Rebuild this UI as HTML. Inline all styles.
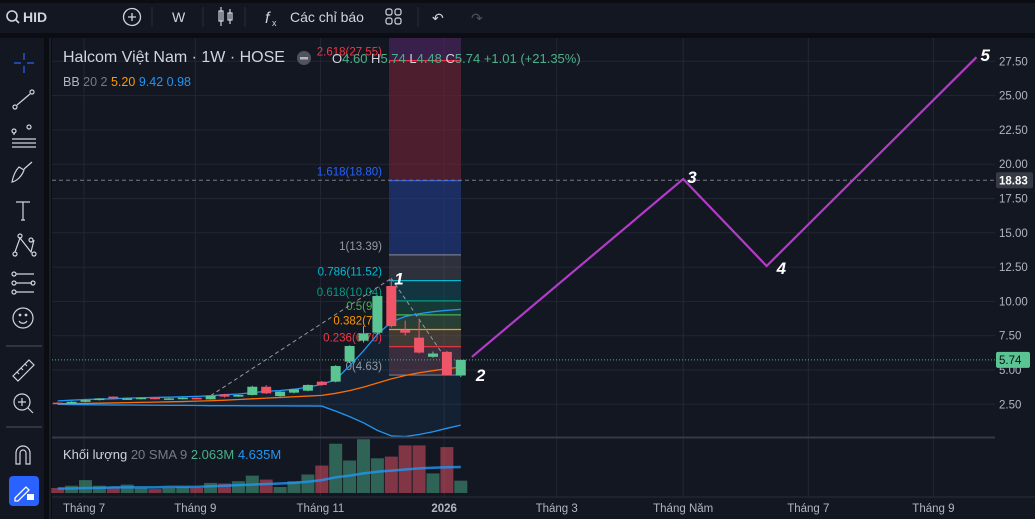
<!DOCTYPE html>
<html><head><meta charset="utf-8"><style>
html,body{margin:0;padding:0;background:#0b0d13;width:1035px;height:519px;overflow:hidden;font-family:"Liberation Sans",sans-serif}
svg{display:block}
</style></head><body>
<svg id="c" width="1035" height="519" xmlns="http://www.w3.org/2000/svg">
<rect x="0" y="0" width="1035" height="519" fill="#0b0d13"/>
<g font-size="14" fill="#d1d4dc">
<rect x="0" y="3" width="1035" height="30" fill="#131722"/>
<g><circle cx="12" cy="16" r="5" fill="none" stroke="#d1d4dc" stroke-width="1.6"/><line x1="15.5" y1="19.5" x2="19" y2="23" stroke="#d1d4dc" stroke-width="1.6"/><text x="23" y="22" font-weight="bold">HID</text></g>
<g><circle cx="132" cy="17" r="8.5" fill="none" stroke="#d1d4dc" stroke-width="1.3"/><path d="M128 17h8M132 13v8" stroke="#d1d4dc" stroke-width="1.3"/></g>
<line x1="152" y1="7" x2="152" y2="27" stroke="#2a2e39"/>
<text x="172" y="22">W</text>
<line x1="203" y1="7" x2="203" y2="27" stroke="#2a2e39"/>
<g stroke="#d1d4dc" fill="none" stroke-width="1.2"><rect x="219" y="11" width="4" height="10"/><line x1="221" y1="7" x2="221" y2="26"/><rect x="228" y="13" width="4" height="7"/><line x1="230" y1="9" x2="230" y2="24"/></g>
<line x1="245" y1="7" x2="245" y2="27" stroke="#2a2e39"/>
<g><text x="265" y="23" font-style="italic" font-size="16">f</text><text x="272" y="26" font-size="9">x</text><text x="290" y="22">Các chỉ báo</text></g>
<g fill="none" stroke="#d1d4dc" stroke-width="1.2"><rect x="386" y="9" width="6" height="6" rx="2"/><rect x="395" y="9" width="6" height="6" rx="2"/><rect x="386" y="18" width="6" height="6" rx="2"/><rect x="395" y="18" width="6" height="6" rx="2"/></g>
<line x1="418" y1="7" x2="418" y2="27" stroke="#2a2e39"/>
<text x="432" y="23">↶</text>
<text x="471" y="23" fill="#50535e">↷</text>
</g>
<g>
<rect x="0" y="38" width="44" height="481" fill="#131722"/>
<g stroke="#d1d4dc" fill="none" stroke-width="1.2">
<g stroke="#2962ff"><path d="M24 53v7M24 66v7M14 63h7M27 63h7"/></g>
<g><circle cx="15" cy="107" r="2"/><circle cx="32" cy="92" r="2"/><line x1="17" y1="105" x2="30" y2="94"/></g>
<g><circle cx="14" cy="131" r="2"/><circle cx="29" cy="127" r="2"/><path d="M12 139h24M12 143h24M12 147h24M14 135v-2"/></g>
<g><path d="M12 182c5-1 10-6 12-12l-5-3c-4 4-6 10-7 15zM24 169l8-7"/></g>
<g><path d="M16 202h14M23 202v18M21 220h4"/></g>
<g><circle cx="15" cy="254" r="2"/><circle cx="20" cy="236" r="2"/><circle cx="31" cy="240" r="2"/><circle cx="34" cy="254" r="2"/><path d="M15 252l5-14l11 14M20 238l11 14l3-12"/></g>
<g><circle cx="14" cy="274" r="2"/><circle cx="14" cy="283" r="2"/><circle cx="14" cy="292" r="2"/><circle cx="33" cy="283" r="2"/><path d="M16 274h18M16 283h16M16 292h18"/></g>
<g><circle cx="23" cy="318" r="10"/><path d="M19 321c2 3 6 3 8 0"/><circle cx="20" cy="315" r=".8"/><circle cx="26" cy="315" r=".8"/></g>
<line x1="6" y1="346" x2="42" y2="346" stroke="#434651"/>
<g><path d="M13 376l16-16l5 5l-16 16z M17 372l2 2M21 368l2 2M25 364l2 2"/></g>
<g><circle cx="22" cy="402" r="8"/><path d="M28 408l5 5M18 402h8M22 398v8"/></g>
<line x1="6" y1="427" x2="42" y2="427" stroke="#434651"/>
<g><path d="M16 464v-11a7 7 0 0 1 14 0v11h-4v-11a3 3 0 0 0-6 0v11z"/></g>
</g>
<g><rect x="9" y="476" width="30" height="30" rx="4" fill="#2962ff"/><path d="M15 498l11-11l3 3l-11 11h-3z" stroke="#fff" fill="none" stroke-width="1.3"/><rect x="27" y="494" width="7" height="6" fill="#fff"/></g>
</g>
<line x1="50" y1="38" x2="50" y2="519" stroke="#2a2e39"/>
<rect x="52" y="38" width="983" height="481" fill="#131722"/>
<g id="grid"></g>
<g id="bbfill"></g>
<g id="fib"></g>
<g id="lines"></g>
<g id="candles"></g>
<g id="vol"></g>
<g id="wave"></g>
<g id="axes"></g>
<g font-size="13">
<text x="63" y="62" font-size="16" fill="#d1d4dc">Halcom Việt Nam · 1W · HOSE</text>
<circle cx="304" cy="58" r="7" fill="#50535e"/><rect x="300" y="57" width="8" height="2.5" fill="#b2b5be"/>
<text x="332" y="63" fill="#d1d4dc">O<tspan fill="#4caf88">4.60</tspan> H<tspan fill="#4caf88">5.74</tspan> L<tspan fill="#4caf88">4.48</tspan> C<tspan fill="#4caf88">5.74 +1.01 (+21.35%)</tspan></text>
<text x="63" y="86" font-size="12.5" fill="#b2b5be">BB <tspan fill="#787b86">20 2</tspan>  <tspan fill="#ff9800">5.20</tspan>  <tspan fill="#2196f3">9.42</tspan>  <tspan fill="#2196f3">0.98</tspan></text>
<text x="63" y="459" font-size="13" fill="#d1d4dc">Khối lượng <tspan fill="#787b86">20 SMA 9</tspan>  <tspan fill="#4caf88">2.063M</tspan>  <tspan fill="#2196f3">4.635M</tspan></text>
</g>
</svg>
<script>
const opens  =[2.62,2.55,2.68,2.81,3.06,2.86,2.88,2.98,2.88,2.88,2.98,2.86,3.23,3.06,3.18,3.78,3.10,3.35,3.49,4.15,4.15,5.61,7.14,7.72,11.12,7.92,7.36,5.96,6.32,4.60];
const highs  =[2.65,2.72,2.85,2.95,3.08,2.97,3.00,3.00,2.96,3.00,3.00,3.16,3.26,3.20,3.85,3.90,3.45,3.62,3.95,4.20,5.35,6.80,8.20,10.45,11.68,8.60,8.60,6.35,6.40,5.74];
const lows   =[2.50,2.52,2.65,2.78,2.90,2.84,2.85,2.85,2.85,2.86,2.85,2.84,3.00,3.04,3.15,3.25,3.05,3.30,3.45,3.85,4.10,5.50,7.00,7.60,8.10,7.50,6.20,5.90,4.60,4.48];
const closes =[2.55,2.68,2.81,2.93,2.93,2.93,2.98,2.88,2.93,2.98,2.86,3.13,3.06,3.18,3.78,3.30,3.42,3.59,3.91,3.91,5.29,6.75,7.67,10.39,8.20,7.72,6.27,6.20,4.63,5.74];
const volumes=[0.9,1.3,2.3,1.3,1.07,1.5,0.9,0.7,0.9,1.07,0.9,1.8,1.7,2.1,3.1,2.4,1.07,2.1,3.3,4.9,8.8,5.8,9.6,6.2,6.5,8.5,8.5,3.5,8.2,2.2];
const volSma =[0.8,0.8,0.9,0.9,1.0,1.0,1.0,1.0,1.1,1.1,1.1,1.2,1.3,1.4,1.5,1.6,1.7,1.8,2.0,2.3,2.8,3.1,3.5,3.8,4.0,4.2,4.4,4.5,4.6,4.635];
const bbUpper=[2.75,2.8,2.85,2.88,2.9,2.95,2.98,3.0,3.02,3.05,3.08,3.12,3.2,3.25,3.35,3.45,3.5,3.6,3.75,3.95,4.3,5.3,6.4,7.6,8.5,8.9,9.1,9.25,9.35,9.42];
const bbMid  =[2.55,2.56,2.57,2.58,2.6,2.62,2.64,2.66,2.68,2.7,2.73,2.76,2.8,2.85,2.9,2.95,3.0,3.05,3.1,3.15,3.3,3.5,3.75,4.05,4.35,4.6,4.8,4.95,5.1,5.2];
const bbLower=[2.5,2.48,2.47,2.46,2.45,2.45,2.44,2.43,2.42,2.42,2.41,2.4,2.4,2.4,2.39,2.39,2.39,2.38,2.38,2.37,2.0,1.6,1.15,0.6,0.2,0.15,0.3,0.5,0.75,0.98];
const priceTicks=[27.5,25,22.5,20,17.5,15,12.5,10,7.5,5,2.5];
const priceTickLabels=["27.50","25.00","22.50","20.00","17.50","15.00","12.50","10.00","7.50","5.00","2.50"];
const timeTickIdx=[1.9,9.9,18.9,27.8,35.9,45,54,63];
const timeTickLabels=["Tháng 7","Tháng 9","Tháng 11","2026","Tháng 3","Tháng Năm","Tháng 7","Tháng 9"];
const fibRatios=[0,0.236,0.382,0.5,0.618,0.786,1,1.618,2.618];
const fibPrices=[4.63,6.70,7.95,9.02,10.04,11.52,13.39,18.80,27.55];
const fibLabels=["0(4.63)","0.236(6.70)","0.382(7.9","0.5(9.0","0.618(10.04)","0.786(11.52)","1(13.39)","1.618(18.80)","2.618(27.55)"];
const waveIdx=[29.8,45,51,66.1];
const wavePrice=[5.95,18.92,12.58,27.8];
const waveLabels=["2","3","4","5"];
const lastPrice=5.74, targetPrice=18.83;

const xOf=i=>57.7+i*13.9;
const yOf=p=>370-(p-5)*13.72;
const volBase=493, volScale=5.6;
const yVol=v=>volBase-v*volScale;
const NS="http://www.w3.org/2000/svg";
function mk(parent,tag,attrs){const e=document.createElementNS(NS,tag);for(const k in attrs)e.setAttribute(k,attrs[k]);document.getElementById(parent).appendChild(e);return e;}
const UP="#5bc493",DN="#ef5568";

priceTicks.forEach((p,i)=>{const l=mk('grid','line',{x1:52,x2:995,y1:yOf(p),y2:yOf(p),stroke:'#232733'});

});
timeTickIdx.forEach(t=>{const l=mk('grid','line',{x1:xOf(t),x2:xOf(t),y1:38,y2:497,stroke:'#232733'});

});

let poly=bbUpper.map((v,i)=>xOf(i)+','+yOf(v)).join(' ')+' '+bbLower.map((v,i)=>xOf(i)+','+Math.min(yOf(v),437)).reverse().join(' ');
const bf=mk('bbfill','polygon',{points:poly,fill:'rgba(33,150,243,0.08)'});



const fx0=389,fx1=461;
const fibCols=['#787b86','#f23645','#ff9800','#4caf50','#089981','#00bcd4','#787b86','#2962ff','#f23645'];
const bandCols=['rgba(130,70,85,0.35)','rgba(150,105,60,0.35)','rgba(80,120,60,0.35)','rgba(30,120,90,0.35)','rgba(20,100,115,0.4)','rgba(110,110,120,0.3)','rgba(35,60,140,0.6)','rgba(115,35,55,0.6)'];
for(let i=0;i<fibPrices.length-1;i++){const r=mk('fib','rect',{x:fx0,width:fx1-fx0,y:yOf(fibPrices[i+1]),height:yOf(fibPrices[i])-yOf(fibPrices[i+1]),fill:bandCols[i]});

}
const topR=mk('fib','rect',{x:fx0,width:fx1-fx0,y:38,height:Math.max(0,yOf(fibPrices[8])-38),fill:'rgba(90,40,110,0.55)'});


fibPrices.forEach((p,i)=>{const l=mk('fib','line',{x1:fx0,x2:fx1,y1:yOf(p),y2:yOf(p),stroke:fibCols[i],'stroke-width':1.2});


const t=mk('fib','text',{x:382,y:yOf(p)-5,'text-anchor':'end','font-size':11.5,fill:fibCols[i]==='#787b86'?'#9598a1':fibCols[i]});t.textContent=fibLabels[i];

});
const d1=mk('fib','line',{x1:xOf(11),y1:yOf(3.13),x2:xOf(24),y2:yOf(11.68),stroke:'#9598a1','stroke-dasharray':'4 3'});


const d2=mk('fib','line',{x1:xOf(24),y1:yOf(11.68),x2:xOf(28),y2:yOf(5.7),stroke:'#9598a1','stroke-dasharray':'4 3'});



[[bbUpper,'#2196f3','bb-upper'],[bbLower,'#2196f3','bb-lower'],[bbMid,'#ff6d00','bb-basis']].forEach(([arr,c,n])=>{
const l=mk('lines','polyline',{points:arr.map((v,i)=>xOf(i)+','+Math.min(yOf(v),437)).join(' '),fill:'none',stroke:c,'stroke-width':1.3});

});

const pl=mk('lines','line',{x1:52,x2:995,y1:yOf(lastPrice),y2:yOf(lastPrice),stroke:'#4caf88','stroke-dasharray':'1 2'});


const tl=mk('lines','line',{x1:52,x2:995,y1:yOf(targetPrice),y2:yOf(targetPrice),stroke:'#787b86','stroke-dasharray':'4 3'});



opens.forEach((o,i)=>{const c=closes[i],up=c>=o,col=up?UP:DN,x=xOf(i);
const w=mk('candles','line',{x1:x,x2:x,y1:yOf(highs[i]),y2:yOf(lows[i]),stroke:col,'stroke-width':1});


const t=yOf(Math.max(o,c)),b=yOf(Math.min(o,c));
const r=mk('candles','rect',{x:x-5,width:10,y:t,height:Math.max(1.5,b-t),fill:col});

});

const sep=mk('vol','line',{x1:52,x2:1035,y1:437.5,y2:437.5,stroke:'#363a45','stroke-width':2});


volumes.forEach((v,i)=>{const up=closes[i]>=opens[i];
const r=mk('vol','rect',{x:xOf(i)-6.5,width:13,y:yVol(v),height:v*volScale,fill:up?'rgba(76,175,136,0.5)':'rgba(239,83,104,0.5)'});

});
const sm=mk('vol','polyline',{points:volSma.map((v,i)=>xOf(i)+','+yVol(v)).join(' '),fill:'none',stroke:'#2196f3','stroke-width':2.5,'stroke-opacity':0.8});



const wl=mk('wave','polyline',{points:waveIdx.map((t,i)=>xOf(t)+','+yOf(wavePrice[i])).join(' '),fill:'none',stroke:'#b23bc8','stroke-width':2.2});


const lbl1=mk('wave','text',{x:xOf(24)+3,y:yOf(11.68)+6,fill:'#fff','font-size':17,'font-weight':'bold','font-style':'italic'});lbl1.textContent='1';


waveIdx.forEach((t,i)=>{const dy=i===0?24:(i===2?8:4),dx=i===2?10:4;
const tx=mk('wave','text',{x:xOf(t)+dx,y:yOf(wavePrice[i])+dy,fill:'#fff','font-size':17,'font-weight':'bold','font-style':'italic'});tx.textContent=waveLabels[i];

});

const ax=mk('axes','rect',{x:995,y:38,width:40,height:459,fill:'#131722'});


priceTicks.forEach((p,i)=>{const t=mk('axes','text',{x:999,y:yOf(p)+4,'font-size':11.5,fill:'#b2b5be'});t.textContent=priceTickLabels[i];

});
const tb=mk('axes','rect',{x:996,y:yOf(targetPrice)-8,width:37,height:16,fill:'#363a45',rx:2});


const tt=mk('axes','text',{x:999,y:yOf(targetPrice)+4,'font-size':11.5,fill:'#fff','font-weight':'bold'});tt.textContent=targetPrice.toFixed(2);


const lb=mk('axes','rect',{x:996,y:yOf(lastPrice)-8,width:34,height:16,fill:'#5bc493',rx:2});


const lt=mk('axes','text',{x:999,y:yOf(lastPrice)+4,'font-size':11.5,fill:'#0b0d13'});lt.textContent=lastPrice.toFixed(2);


const tax=mk('axes','rect',{x:52,y:497,width:983,height:22,fill:'#131722'});


const tline=mk('axes','line',{x1:52,x2:1035,y1:497,y2:497,stroke:'#2a2e39'});


timeTickIdx.forEach((t,i)=>{const tx=mk('axes','text',{x:xOf(t),y:512,'text-anchor':'middle','font-size':11.5,fill:'#b2b5be','font-weight':timeTickLabels[i]==='2026'?'bold':'normal'});tx.textContent=timeTickLabels[i];

});
</script>
</body></html>
